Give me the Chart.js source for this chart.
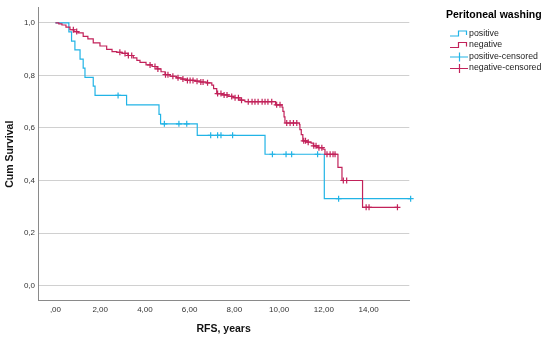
<!DOCTYPE html>
<html><head><meta charset="utf-8">
<script src="https://cdn.jsdelivr.net/npm/chart.js@4.4.0/dist/chart.umd.min.js"></script>
<style>html,body{margin:0;padding:0;background:#fff;}canvas{display:block;}</style>
</head><body>
<canvas id="c" width="550" height="337"></canvas>
<script>
const groups = ['positive', 'negative'];
const legendTitle = 'Peritoneal washing';
const xTitle = 'RFS, years';
const yTitle = 'Cum Survival';
const xTickValues = [0, 2, 4, 6, 8, 10, 12, 14];
const yTickValues = [0, 0.2, 0.4, 0.6, 0.8, 1.0];

const posTimes = [0, 0.60, 0.72, 0.87, 1.10, 1.24, 1.32, 1.69, 1.77, 3.18, 4.63, 4.70, 6.34, 9.37, 12.02, 15.88];
const posSurv  = [1, 0.966, 0.931, 0.897, 0.862, 0.828, 0.793, 0.759, 0.724, 0.688, 0.652, 0.616, 0.572, 0.500, 0.331, 0.331];
const posCensored = [2.80, 4.87, 5.52, 5.87, 6.94, 7.25, 7.40, 7.92, 9.70, 10.31, 10.56, 11.72, 12.66, 15.88];

const negTimes = [0, 0.15, 0.29, 0.47, 0.65, 0.83, 1.01, 1.24, 1.45, 1.69, 1.99, 2.29, 2.53, 2.74, 2.97, 3.24, 3.48, 3.64, 3.78, 4.05, 4.32, 4.54, 4.72, 4.90, 5.12, 5.42, 5.66, 5.87, 6.24, 6.46, 6.76, 6.99, 7.07, 7.21, 7.45, 7.71, 7.95, 8.25, 8.47, 9.84, 10.13, 10.17, 10.22, 10.26, 10.91, 10.93, 10.99, 11.06, 11.25, 11.43, 11.53, 11.74, 11.96, 12.05, 12.63, 12.81, 13.73, 15.29];
const negSurv  = [1, 0.996, 0.992, 0.984, 0.974, 0.967, 0.962, 0.949, 0.939, 0.924, 0.912, 0.899, 0.891, 0.888, 0.884, 0.876, 0.867, 0.857, 0.850, 0.840, 0.834, 0.825, 0.814, 0.803, 0.797, 0.791, 0.786, 0.781, 0.778, 0.775, 0.772, 0.763, 0.750, 0.731, 0.726, 0.720, 0.715, 0.706, 0.700, 0.688, 0.679, 0.663, 0.642, 0.619, 0.613, 0.594, 0.575, 0.551, 0.546, 0.542, 0.532, 0.525, 0.519, 0.500, 0.450, 0.400, 0.298, 0.298];
const negCensored = [0.80, 0.95, 2.88, 3.11, 3.26, 3.41, 4.23, 4.45, 4.58, 4.92, 5.03, 5.25, 5.48, 5.70, 5.90, 6.02, 6.15, 6.33, 6.50, 6.60, 6.80, 7.25, 7.40, 7.54, 7.67, 7.88, 8.03, 8.18, 8.32, 8.62, 8.79, 8.92, 9.06, 9.24, 9.37, 9.50, 9.67, 9.89, 10.04, 10.34, 10.49, 10.64, 10.79, 11.10, 11.18, 11.30, 11.55, 11.65, 11.78, 11.91, 12.14, 12.28, 12.41, 12.50, 12.87, 13.02, 13.89, 14.02, 15.29];

const colors = ['#22B4E6', '#C2225A'];
const FONT = '"Liberation Sans", Arial, sans-serif';

function survAt(times, surv, t) {
  let s = surv[0];
  for (let i = 0; i < times.length; i++) { if (times[i] <= t + 1e-9) s = surv[i]; }
  return s;
}
const toPts = (ts, ss) => ts.map((t, i) => ({x: t, y: ss[i]}));
const censorPts = (cs, ts, ss) => cs.map(t => ({x: t, y: survAt(ts, ss, t)}));

const legendPlugin = {
  id: 'kmLegend',
  afterDraw(chart) {
    const ctx = chart.ctx;
    ctx.save();
    ctx.fillStyle = '#000';
    ctx.textBaseline = 'middle';
    ctx.textAlign = 'left';
    ctx.font = 'bold 10.5px ' + FONT;
    ctx.fillText(legendTitle, 446, 15);
    ctx.font = '8.8px ' + FONT;
    const labels = groups.concat(groups.map(g => g + '-censored'));
    const ys = [33.5, 45, 56.5, 68];
    labels.forEach((lab, i) => {
      const cy = ys[i];
      ctx.strokeStyle = colors[i % 2];
      ctx.lineWidth = 1.2;
      ctx.beginPath();
      if (i < 2) {
        ctx.moveTo(450, cy + 2.5); ctx.lineTo(458.5, cy + 2.5); ctx.lineTo(458.5, cy - 2.5);
        ctx.lineTo(466.5, cy - 2.5); ctx.lineTo(466.5, cy + 1.5);
      } else {
        ctx.moveTo(450, cy + 0.5); ctx.lineTo(468, cy + 0.5);
        ctx.moveTo(459.5, cy - 4); ctx.lineTo(459.5, cy + 5);
      }
      ctx.stroke();
      ctx.fillStyle = '#222';
      ctx.fillText(lab, 469, cy);
    });
    ctx.restore();
  }
};

new Chart(document.getElementById('c'), {
  type: 'scatter',
  data: {
    datasets: [
      {label: groups[0], data: toPts(posTimes, posSurv), showLine: true, stepped: true,
       borderColor: colors[0], borderWidth: 1.2, pointRadius: 0, fill: false, clip: false, order: 4},
      {label: groups[1], data: toPts(negTimes, negSurv), showLine: true, stepped: true,
       borderColor: colors[1], borderWidth: 1.2, pointRadius: 0, fill: false, clip: false, order: 3},
      {label: groups[0] + '-censored', data: censorPts(posCensored, posTimes, posSurv), showLine: false,
       pointStyle: 'cross', pointRadius: 3, borderColor: colors[0], backgroundColor: colors[0], borderWidth: 1.2, clip: false, order: 2},
      {label: groups[1] + '-censored', data: censorPts(negCensored, negTimes, negSurv), showLine: false,
       pointStyle: 'cross', pointRadius: 3, borderColor: colors[1], backgroundColor: colors[1], borderWidth: 1.2, clip: false, order: 1}
    ]
  },
  options: {
    responsive: false,
    animation: false,
    devicePixelRatio: 1,
    layout: {padding: {top: 3, right: 140.7, left: 0, bottom: 0}},
    plugins: {legend: {display: false}, tooltip: {enabled: false}},
    scales: {
      x: {
        type: 'linear', min: -0.78, max: 15.82,
        afterBuildTicks: s => { s.ticks = xTickValues.map(v => ({value: v})); },
        afterFit: s => { s.height = 36.3; },
        grid: {display: false, drawTicks: false},
        border: {display: true, color: '#8a8a8a', width: 1},
        ticks: {
          padding: 4, color: '#333', font: {family: FONT, size: 8},
          callback: v => { const s = Number(v).toFixed(2).replace('.', ','); return v === 0 ? ',00' : s; }
        },
        title: {display: true, text: xTitle, color: '#111', font: {family: FONT, size: 10.5, weight: 'bold'}, padding: {top: 0, bottom: 1.7}}
      },
      y: {
        type: 'linear', min: -0.0575, max: 1.0575,
        afterBuildTicks: s => { s.ticks = yTickValues.map(v => ({value: v})); },
        afterFit: s => { s.width = 38; },
        grid: {display: true, drawTicks: false, color: '#d0d0d0', lineWidth: 1},
        border: {display: true, color: '#8a8a8a', width: 1},
        ticks: {
          padding: 3, color: '#333', font: {family: FONT, size: 8},
          callback: v => Number(v).toFixed(1).replace('.', ',')
        },
        title: {display: true, text: yTitle, color: '#111', font: {family: FONT, size: 10.5, weight: 'bold'}, padding: {top: 3.7, bottom: 0}}
      }
    }
  },
  plugins: [legendPlugin]
});
</script>
</body></html>
